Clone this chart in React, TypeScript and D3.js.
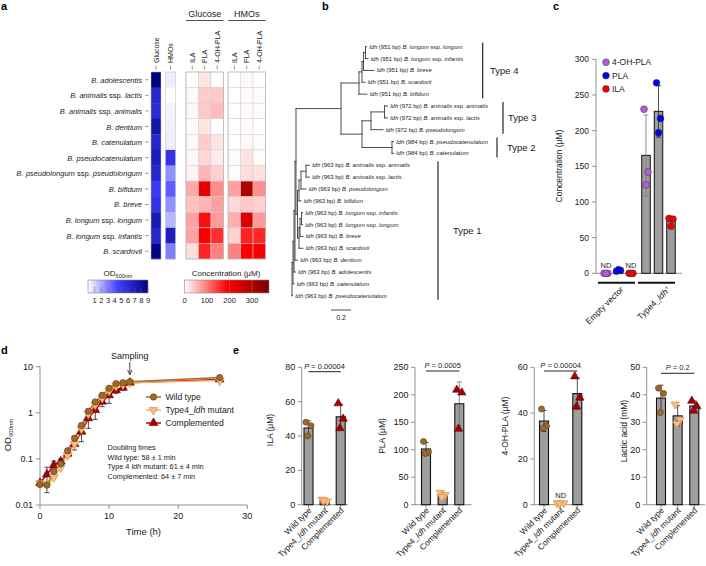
import React from "react";
import * as d3 from "d3";

const FONT = "'Liberation Sans', Arial, Helvetica, sans-serif";

// ---------------- Panel a data ----------------
const species = [
  "B. adolescentis",
  "B. animalis ssp. lactis",
  "B. animalis ssp. animalis",
  "B. dentium",
  "B. catenulatum",
  "B. pseudocatenulatum",
  "B. pseudolongum ssp. pseudolongum",
  "B. bifidum",
  "B. breve",
  "B. longum ssp. longum",
  "B. longum ssp. infantis",
  "B. scardovii",
];
const odColumns = ["Glucose", "HMOs"];
const odGlucose = [9, 6.2, 6, 7.5, 6.3, 7, 6.3, 5, 5.5, 7.2, 6.3, 8.7];
const odHMOs = [0.4, 0, 0.25, 0.35, 0.4, 5.3, 2.6, 3.8, 2.6, 1.7, 6.8, 3];
const mediumGroups = ["Glucose", "HMOs"];
const metaboliteColumns = ["ILA", "PLA", "4-OH-PLA"];
const glcILA = [0, 5, 5, 3, 5, 5, 8, 65, 47, 70, 70, 25];
const glcPLA = [20, 38, 40, 20, 38, 30, 55, 225, 57, 180, 200, 165];
const glc4OH = [0, 40, 50, 0, 20, 15, 35, 85, 71, 75, 155, 95];
const hmoILA = [0, 0, 0, 0, 0, 3, 3, 70, 28, 60, 35, 95];
const hmoPLA = [5, 3, 3, 3, 5, 22, 25, 300, 40, 235, 165, 190];
const hmo4OH = [0, 3, 3, 0, 3, 3, 22, 85, 35, 75, 160, 200];
const odTicks = [1, 2, 3, 4, 5, 6, 7, 8, 9];
const concTicks = [0, 100, 200, 300];

// ---------------- Panel b data ----------------
type TNode = { len: number; leaf?: string; bp?: number; children?: TNode[] };
const L = (bp: number, sp: string, len: number): TNode => ({ len, leaf: sp, bp });
const N = (len: number, ...children: TNode[]): TNode => ({ len, children });
const ldhTree: TNode = N(0,
  N(0.01,
    N(0.01,
      N(0.01,
        N(0.01,
          N(0.45,
            N(0.18,
              N(0.03,
                N(0.015,
                  N(0.02, L(951, "B. longum ssp. longum", 0.01), L(951, "B. longum ssp. infantis", 0.025)),
                  L(951, "B. breve", 0.105)),
                L(951, "B. scardovii", 0.03)),
              L(951, "B. bifidum", 0.08)),
            N(0.21,
              N(0.09,
                N(0.135, L(972, "B. animalis ssp. animalis", 0.03), L(972, "B. animalis ssp. lactis", 0.03)),
                L(972, "B. pseudolongum", 0.12)),
              N(0.30, L(984, "B. pseudocatenulatum", 0.015), L(984, "B. catenulatum", 0.015)))),
          N(0.015,
            N(0.015,
              N(0.02,
                N(0.05, L(963, "B. animalis ssp. animalis", 0.035), L(963, "B. animalis ssp. lactis", 0.035)),
                L(963, "B. pseudolongum", 0.05)),
              L(963, "B. bifidum", 0.02)),
            N(0.015,
              N(0.01,
                N(0.015, L(963, "B. longum ssp. infantis", 0.01), L(963, "B. longum ssp. longum", 0.01)),
                L(963, "B. breve", 0.03)),
              L(963, "B. scardovii", 0.04)))),
        L(963, "B. dentium", 0.025)),
      L(963, "B. adolescentis", 0.015)),
    L(963, "B. catenulatum", 0.01)),
  L(963, "B. pseudocatenulatum", 0.005));
const typeNames = ["Type 4", "Type 3", "Type 2", "Type 1"];
const typeLeafRanges = [[0, 4], [5, 7], [8, 9], [10, 21]];
const scaleBarValue = 0.2;

// ---------------- Panel c data ----------------
const cGroups = ["Empty vector", "Type4_ldh+"];
const cMetabolites = ["4-OH-PLA", "PLA", "ILA"];
const cColors = ["#b45cd9", "#0000f0", "#f20000"];
const cEmptyVector = [[0, 0, 0], [3, 4, 5], [0, 0, 0]];
const cType4 = [[230, 142, 124], [267, 217, 197], [77, 76, 66]];
const cEmptyND = ["4-OH-PLA", "ILA"];
const cTicks = [0, 50, 100, 150, 200, 250, 300];

// ---------------- Panel d data ----------------
const times = [0, 1, 2, 3, 4, 5, 6, 7, 8, 9, 10, 11, 12, 13, 26];
const odWT = [0.028, 0.027, 0.054, 0.078, 0.15, 0.28, 0.53, 1.08, 1.72, 2.4, 3.4, 4.3, 4.5, 4.7, 5.8];
const odMut = [0.03, 0.028, 0.04, 0.065, 0.12, 0.21, 0.45, 0.95, 1.5, 2.1, 3.0, 3.8, 4.1, 4.5, 5.0];
const odComp = [0.03, 0.046, 0.073, 0.088, 0.13, 0.21, 0.39, 0.76, 1.15, 1.75, 2.4, 3.1, 3.5, 4.5, 5.3];
const odCompLo = [0.026, 0.0185, 0.038, 0.065, 0.11, 0.156, 0.236, 0.46, 0.72, 1.36, 1.6, 2.65, 3.1, 4.3, 4.9];
const odCompHi = [0.034, 0.066, 0.09, 0.1, 0.15, 0.26, 0.5, 1.0, 1.6, 2.2, 3.2, 3.8, 4.2, 4.7, 5.8];
const dXTicks = [0, 10, 20, 30];
const dYTicks = [0.01, 0.1, 1, 10];
const dLegend = ["Wild type", "Type4_ldh mutant", "Complemented"];
const doublingLines = ["Doubling times", "Wild type: 58 ± 1 min", "Type 4 ldh mutant: 61 ± 4 min", "Complemented: 64 ± 7 min"];
const samplingTime = 13;

// ---------------- Panel e data ----------------
const eStrains = ["Wild type", "Type4_ldh mutant", "Complemented"];
const eILA = [[48, 46, 40], [3, 2, 2.5], [59, 50, 44.5]];
const ePLA = [[115, 96, 93], [22, 18, 14], [209, 204, 138]];
const e4OH = [[41.8, 34.4, 33.4], [0, 0, 0], [56, 46.7, 42.8]];
const eLactic = [[42.4, 40.5, 33.5], [36.5, 31, 29.5], [37.8, 35.8, 34.2]];
const eTitles = ["ILA (μM)", "PLA (μM)", "4-OH-PLA (μM)", "Lactic acid (mM)"];
const eMax = [80, 250, 60, 50];
const eTickStep = [20, 50, 20, 10];
const ePValues = ["0.00004", "0.0005", "0.00004", "0.2"];
const eND = [[], [], ["Type4_ldh mutant"], []] as string[][];

// ---------------- styling ----------------
const TXT = "#1a1a1a";
const WT_FILL = "#9c6a2c", WT_STROKE = "#5e3b10", WT_LINE = "#a3722f";
const MUT_FILL = "#f6bd85", MUT_STROKE = "#d8893c", MUT_LINE = "#f2b273";
const COMP_FILL = "#a80000", COMP_STROKE = "#600000", COMP_LINE = "#c40000";
const BAR_FILL = "#9e9e9e";

function Species({ name }: { name: string }) {
  const parts = name.split(" ssp. ");
  if (parts.length === 1) return <tspan fontStyle="italic">{name}</tspan>;
  return (
    <>
      <tspan fontStyle="italic">{parts[0]}</tspan>
      <tspan fontStyle="normal">{" ssp. "}</tspan>
      <tspan fontStyle="italic">{parts[1]}</tspan>
    </>
  );
}

function LdhText({ label }: { label: string }) {
  const i = label.indexOf("ldh");
  if (i < 0) return <>{label}</>;
  return (
    <>
      {label.slice(0, i)}
      <tspan fontStyle="italic">ldh</tspan>
      {label.slice(i + 3)}
    </>
  );
}

function Marker({ kind, x, y, s = 1 }: { kind: number; x: number; y: number; s?: number }) {
  if (kind === 0)
    return <circle cx={x} cy={y} r={3.2 * s} fill={WT_FILL} stroke={WT_STROKE} strokeWidth={0.6} />;
  const path = d3.symbol().type(d3.symbolTriangle).size(34 * s * s)() as string;
  const fill = kind === 1 ? MUT_FILL : COMP_FILL;
  const stroke = kind === 1 ? MUT_STROKE : COMP_STROKE;
  return (
    <path d={path} transform={`translate(${x},${y}) rotate(${kind === 1 ? 180 : 0})`} fill={fill} stroke={stroke} strokeWidth={0.6} />
  );
}

// ---------------- Panel A ----------------
function PanelA() {
  const rowY = d3.scaleBand<string>().domain(species).range([72, 259]);
  const odX = d3.scaleBand<string>().domain(odColumns).range([151, 175.5]).paddingInner(0.31);
  const groupX = d3.scaleBand<string>().domain(mediumGroups).range([186, 265.5]).paddingInner(0.11);
  const metX = d3.scaleBand<string>().domain(metaboliteColumns).range([0, groupX.bandwidth()]);
  const odColor = d3.scaleLinear<string>().domain([0, 4.5, 9]).range(["#ffffff", "#4040ff", "#000080"]);
  const concColor = d3.scaleLinear<string>().domain([0, 190, 375]).range(["#ffffff", "#ff0000", "#7a0000"]);
  const odVals = [odGlucose, odHMOs];
  const concVals = [[glcILA, glcPLA, glc4OH], [hmoILA, hmoPLA, hmo4OH]];
  const odBar = d3.scaleLinear().domain([0, 9]).range([88, 148]);
  const concBar = d3.scaleLinear().domain([0, 375]).range([184.5, 269]);
  const rb = rowY.bandwidth();
  return (
    <g>
      <text x={1} y={10} fontSize={11} fontWeight="bold">a</text>
      {species.map((s) => (
        <g key={s}>
          <text x={142} y={(rowY(s) as number) + rb / 2} fontSize={7.5} textAnchor="end" dominantBaseline="central" fill={TXT}>
            <Species name={s} />
          </text>
          <line x1={145} x2={148.5} y1={(rowY(s) as number) + rb / 2} y2={(rowY(s) as number) + rb / 2} stroke="#555" strokeWidth={0.6} />
        </g>
      ))}
      {odColumns.map((c, ci) => {
        const x = odX(c) as number;
        const cx = x + odX.bandwidth() / 2;
        return (
          <g key={c}>
            {species.map((s, ri) => (
              <rect key={s} x={x} y={rowY(s)} width={odX.bandwidth()} height={rb + 0.3} fill={odColor(odVals[ci][ri])} />
            ))}
            <rect x={x} y={72} width={odX.bandwidth()} height={187} fill="none" stroke="#bbb" strokeWidth={0.5} />
            <text transform={`translate(${cx + 2.5},63) rotate(-90)`} fontSize={7} fill={TXT}>{c}</text>
            <line x1={cx} x2={cx} y1={65.5} y2={69.5} stroke="#555" strokeWidth={0.6} />
          </g>
        );
      })}
      {mediumGroups.map((g, gi) => {
        const gx = groupX(g) as number;
        return (
          <g key={g}>
            <text x={gx + groupX.bandwidth() / 2} y={17} fontSize={9} textAnchor="middle" fill={TXT}>{g}</text>
            <line x1={gx} x2={gx + groupX.bandwidth()} y1={20.5} y2={20.5} stroke="#222" strokeWidth={0.8} />
            {metaboliteColumns.map((m, mi) => {
              const x = gx + (metX(m) as number);
              const cx = x + metX.bandwidth() / 2;
              return (
                <g key={m}>
                  {species.map((s, ri) => (
                    <rect key={s} x={x} y={rowY(s)} width={metX.bandwidth()} height={rb} fill={concColor(concVals[gi][mi][ri])} stroke="#cfcfcf" strokeWidth={0.5} />
                  ))}
                  <text transform={`translate(${cx + 2.5},63) rotate(-90)`} fontSize={7} fill={TXT}>{m}</text>
                  <line x1={cx} x2={cx} y1={65.5} y2={69.5} stroke="#555" strokeWidth={0.6} />
                </g>
              );
            })}
            <rect x={gx} y={72} width={groupX.bandwidth()} height={187} fill="none" stroke="#aaa" strokeWidth={0.6} />
          </g>
        );
      })}
      <defs>
        <linearGradient id="odGrad" x1="0" x2="1" y1="0" y2="0">
          {odColor.domain().map((d, i) => (
            <stop key={i} offset={d / 9} stopColor={odColor.range()[i]} />
          ))}
        </linearGradient>
        <linearGradient id="concGrad" x1="0" x2="1" y1="0" y2="0">
          {concColor.domain().map((d, i) => (
            <stop key={i} offset={d / 375} stopColor={concColor.range()[i]} />
          ))}
        </linearGradient>
      </defs>
      <text x={118} y={276} fontSize={8} textAnchor="middle" fill={TXT}>
        OD<tspan fontSize={5.5} dy={2}>600nm</tspan>
      </text>
      <rect x={88} y={280} width={60} height={13} fill="url(#odGrad)" stroke="#888" strokeWidth={0.6} />
      {odTicks.map((t) => (
        <g key={t}>
          <line x1={odBar(t)} x2={odBar(t)} y1={287} y2={293} stroke="#666" strokeWidth={0.5} />
          <text x={odBar(t)} y={303} fontSize={7.5} textAnchor="middle" fill={TXT}>{t}</text>
        </g>
      ))}
      <text x={226} y={276} fontSize={8} textAnchor="middle" fill={TXT}>Concentration (μM)</text>
      <rect x={184.5} y={280} width={84.5} height={13} fill="url(#concGrad)" stroke="#888" strokeWidth={0.6} />
      {concTicks.map((t) => (
        <g key={t}>
          {t > 0 && <line x1={concBar(t)} x2={concBar(t)} y1={280} y2={293} stroke="#bbb" strokeWidth={0.5} opacity={0.6} />}
          <text x={concBar(t)} y={303} fontSize={7.5} textAnchor="middle" fill={TXT}>{t}</text>
        </g>
      ))}
    </g>
  );
}

// ---------------- Panel B ----------------
type Laid = { x: number; y: number; node: TNode; kids: Laid[]; idx?: number };
function PanelB() {
  const rootX = 292;
  const unit = 100;
  const leafY = d3.scaleLinear().domain([0, 21]).range([46.7, 295.7]);
  let counter = 0;
  const lay = (n: TNode, px: number): Laid => {
    const x = px + n.len * unit;
    if (!n.children) {
      const idx = counter++;
      return { x, y: leafY(idx), node: n, kids: [], idx };
    }
    const kids = n.children.map((c) => lay(c, x));
    return { x, y: (kids[0].y + kids[kids.length - 1].y) / 2, node: n, kids };
  };
  const root = lay(ldhTree, rootX);
  const segs: [number, number, number, number][] = [];
  const leaves: Laid[] = [];
  const walk = (l: Laid) => {
    if (!l.kids.length) { leaves.push(l); return; }
    segs.push([l.x, l.kids[0].y, l.x, l.kids[l.kids.length - 1].y]);
    l.kids.forEach((k) => { segs.push([l.x, k.y, k.x, k.y]); walk(k); });
  };
  walk(root);
  const typeBarX = [482.7, 503, 497, 438];
  const typeLabelX = [490, 508, 507, 453];
  return (
    <g>
      <text x={322} y={10} fontSize={11} fontWeight="bold">b</text>
      {segs.map((s, i) => (
        <line key={i} x1={s[0]} y1={s[1]} x2={s[2]} y2={s[3]} stroke="#3a3a3a" strokeWidth={0.9} strokeLinecap="square" />
      ))}
      {leaves.map((l, i) => (
        <text key={i} x={l.x + 2.8} y={l.y} fontSize={5.9} dominantBaseline="central" fill={TXT}>
          <tspan fontStyle="italic">ldh</tspan>
          {` (${l.node.bp} bp) `}
          <Species name={l.node.leaf as string} />
        </text>
      ))}
      {typeNames.map((t, i) => {
        const [a, b] = typeLeafRanges[i];
        const y0 = leafY(a) - 4, y1 = leafY(b) + 4;
        return (
          <g key={t}>
            <line x1={typeBarX[i]} x2={typeBarX[i]} y1={y0} y2={y1} stroke="#111" strokeWidth={1.1} />
            <text x={typeLabelX[i]} y={(y0 + y1) / 2} fontSize={9.5} dominantBaseline="central" fill={TXT}>{t}</text>
          </g>
        );
      })}
      <line x1={331} x2={331 + scaleBarValue * unit} y1={310} y2={310} stroke="#222" strokeWidth={0.8} />
      <text x={331 + (scaleBarValue * unit) / 2} y={320} fontSize={7} textAnchor="middle" fill={TXT}>{scaleBarValue}</text>
    </g>
  );
}

// ---------------- Panel C ----------------
function PanelC() {
  const y = d3.scaleLinear().domain([0, 300]).range([273.3, 59.3]);
  const gx = d3.scalePoint<string>().domain(cGroups).range([618.5, 658.5]);
  const mx = d3.scalePoint<string>().domain(cMetabolites).range([-12.5, 12.5]);
  const jitter = [-2, 2, 0];
  const groupVals = [cEmptyVector, cType4];
  const bw = 8.5;
  return (
    <g>
      <text x={553} y={10} fontSize={11} fontWeight="bold">c</text>
      <line x1={596} x2={596} y1={y(0)} y2={y(300)} stroke="#777" strokeWidth={0.8} />
      <line x1={596} x2={682} y1={y(0)} y2={y(0)} stroke="#777" strokeWidth={0.8} />
      {cTicks.map((t) => (
        <g key={t}>
          <line x1={592} x2={596} y1={y(t)} y2={y(t)} stroke="#777" strokeWidth={0.8} />
          <text x={589} y={y(t)} fontSize={8.5} textAnchor="end" dominantBaseline="central" fill={TXT}>{t}</text>
        </g>
      ))}
      <text transform={`translate(561.5,166) rotate(-90)`} fontSize={8.5} textAnchor="middle" fill={TXT}>Concentration (μM)</text>
      {cGroups.map((g, gi) => (
        <g key={g}>
          {cMetabolites.map((m, mi) => {
            const cx = (gx(g) as number) + (mx(m) as number);
            const vals = groupVals[gi][mi];
            const isND = gi === 0 && cEmptyND.includes(m);
            const mean = d3.mean(vals) as number;
            const sd = d3.deviation(vals) || 0;
            return (
              <g key={m}>
                {!isND && mean > 0 && (
                  <rect x={cx - bw / 2} y={y(mean)} width={bw} height={y(0) - y(mean)} fill={BAR_FILL} stroke="#111" strokeWidth={1} />
                )}
                {!isND && sd > 0 && (
                  <g stroke={gi === 1 && mi === 0 ? "#777" : "#222"} strokeWidth={0.8}>
                    <line x1={cx} x2={cx} y1={y(mean - sd)} y2={y(mean + sd)} />
                    <line x1={cx - 2.5} x2={cx + 2.5} y1={y(mean - sd)} y2={y(mean - sd)} />
                    <line x1={cx - 2.5} x2={cx + 2.5} y1={y(mean + sd)} y2={y(mean + sd)} />
                  </g>
                )}
                {vals.map((v, k) => (
                  <circle key={k} cx={cx + jitter[k]} cy={y(v)} r={3.4} fill={cColors[mi]} stroke="#333" strokeWidth={0.5} />
                ))}
                {isND && (
                  <text x={cx} y={268} fontSize={7.5} textAnchor="middle" fill={TXT}>ND</text>
                )}
              </g>
            );
          })}
          <line x1={(gx(g) as number) - 20.5} x2={(gx(g) as number) + 16.5} y1={282.7} y2={282.7} stroke="#111" strokeWidth={2} />
        </g>
      ))}
      <text transform={`translate(624,290) rotate(-45)`} fontSize={8.5} textAnchor="end" fill={TXT}>Empty vector</text>
      <text transform={`translate(671,290) rotate(-45)`} fontSize={8.5} textAnchor="end" fill={TXT}>
        Type4_<tspan fontStyle="italic">ldh</tspan><tspan fontSize={6} dy={-3}>+</tspan>
      </text>
      {cMetabolites.map((m, i) => (
        <g key={m}>
          <circle cx={606} cy={62.3 + i * 13.3} r={3.4} fill={cColors[i]} stroke="#333" strokeWidth={0.5} />
          <text x={612} y={62.3 + i * 13.3} fontSize={8.5} dominantBaseline="central" fill={TXT}>{m}</text>
        </g>
      ))}
    </g>
  );
}

// ---------------- Panel D ----------------
function PanelD() {
  const x = d3.scaleLinear().domain([0, 30]).range([40, 247.3]);
  const y = d3.scaleLog().domain([0.01, 10]).range([505, 366.7]);
  const line = d3.line<number>().x((_, i) => x(times[i])).y((v) => y(v));
  const series = [odWT, odMut, odComp];
  const lineColors = [WT_LINE, MUT_LINE, COMP_LINE];
  const sx = x(samplingTime);
  return (
    <g>
      <text x={1} y={354} fontSize={11} fontWeight="bold">d</text>
      <line x1={40} x2={40} y1={y(0.01)} y2={y(10)} stroke="#777" strokeWidth={0.8} />
      <line x1={40} x2={247.3} y1={y(0.01)} y2={y(0.01)} stroke="#777" strokeWidth={0.8} />
      {dYTicks.map((t) => (
        <g key={t}>
          <line x1={36} x2={40} y1={y(t)} y2={y(t)} stroke="#777" strokeWidth={0.8} />
          <text x={33} y={y(t)} fontSize={9} textAnchor="end" dominantBaseline="central" fill={TXT}>{t}</text>
        </g>
      ))}
      {dXTicks.map((t) => (
        <g key={t}>
          <line x1={x(t)} x2={x(t)} y1={505} y2={509} stroke="#777" strokeWidth={0.8} />
          <text x={x(t)} y={519} fontSize={9} textAnchor="middle" fill={TXT}>{t}</text>
        </g>
      ))}
      <text x={143.5} y={535} fontSize={9.5} textAnchor="middle" fill={TXT}>Time (h)</text>
      <text transform={`translate(10.5,435) rotate(-90)`} fontSize={9.5} textAnchor="middle" fill={TXT}>
        OD<tspan fontSize={6} dy={2.5}>600nm</tspan>
      </text>
      {times.map((t, i) => (
        <g key={t} stroke="#222" strokeWidth={0.8}>
          <line x1={x(t)} x2={x(t)} y1={y(odCompLo[i])} y2={y(odCompHi[i])} />
          <line x1={x(t) - 2.5} x2={x(t) + 2.5} y1={y(odCompLo[i])} y2={y(odCompLo[i])} />
          <line x1={x(t) - 2.5} x2={x(t) + 2.5} y1={y(odCompHi[i])} y2={y(odCompHi[i])} />
        </g>
      ))}
      {[2, 1, 0].map((k) => (
        <path key={k} d={line(series[k]) as string} fill="none" stroke={lineColors[k]} strokeWidth={1.5} />
      ))}
      {[2, 1, 0].map((k) => (
        <g key={k}>
          {series[k].map((v, i) => (
            <Marker key={i} kind={k} x={x(times[i])} y={y(v)} />
          ))}
        </g>
      ))}
      <text x={sx} y={359} fontSize={9} textAnchor="middle" fill={TXT}>Sampling</text>
      <line x1={sx} x2={sx} y1={362} y2={373} stroke="#111" strokeWidth={0.8} />
      <path d={`M${sx - 2.2},${370} L${sx},${375} L${sx + 2.2},${370}`} fill="none" stroke="#111" strokeWidth={0.8} />
      {dLegend.map((lab, k) => {
        const ly = 397 + k * 13;
        return (
          <g key={lab}>
            <line x1={146} x2={161} y1={ly} y2={ly} stroke={lineColors[k]} strokeWidth={1.5} />
            <Marker kind={k} x={153.5} y={ly} />
            <text x={165.5} y={ly} fontSize={8.6} dominantBaseline="central" fill={TXT}>
              <LdhText label={lab} />
            </text>
          </g>
        );
      })}
      {doublingLines.map((l, i) => (
        <text key={i} x={107.5} y={450 + i * 9.7} fontSize={7.3} fill={TXT}>
          <LdhText label={l} />
        </text>
      ))}
    </g>
  );
}

// ---------------- Panel E ----------------
const eLayout = [
  { axisX: 301.7, c0: 308.5, c1: 340.7, xEnd: 348, titleX: 273.3, titleY: 430, pY: 371.7 },
  { axisX: 415, c0: 426, c1: 459.3, xEnd: 471.7, titleX: 385, titleY: 436, pY: 371 },
  { axisX: 534.3, c0: 544, c1: 577.3, xEnd: 584, titleX: 508, titleY: 426, pY: 371 },
  { axisX: 646.7, c0: 661, c1: 694.3, xEnd: 705, titleX: 627, titleY: 431, pY: 373.3 },
];

function BarPanel({ idx }: { idx: number }) {
  const vals = [eILA, ePLA, e4OH, eLactic][idx];
  const lay = eLayout[idx];
  const y = d3.scaleLinear().domain([0, eMax[idx]]).range([504.7, 367.3]);
  const x = d3.scalePoint<string>().domain(eStrains).range([lay.c0, lay.c1]);
  const ticks = d3.range(0, eMax[idx] + 0.001, eTickStep[idx]);
  const bw = 9;
  const jitter = [-2.5, 2.5, -0.8];
  return (
    <g>
      <line x1={lay.axisX} x2={lay.axisX} y1={y(0)} y2={y(eMax[idx])} stroke="#777" strokeWidth={0.8} />
      <line x1={lay.axisX} x2={lay.xEnd} y1={y(0)} y2={y(0)} stroke="#777" strokeWidth={0.8} />
      {ticks.map((t) => (
        <g key={t}>
          <line x1={lay.axisX - 4} x2={lay.axisX} y1={y(t)} y2={y(t)} stroke="#777" strokeWidth={0.8} />
          <text x={lay.axisX - 6.5} y={y(t)} fontSize={9} textAnchor="end" dominantBaseline="central" fill={TXT}>{t}</text>
        </g>
      ))}
      <text transform={`translate(${lay.titleX},${lay.titleY}) rotate(-90)`} fontSize={8.5} textAnchor="middle" fill={TXT}>{eTitles[idx]}</text>
      {eStrains.map((s, si) => {
        const cx = x(s) as number;
        const v = vals[si];
        const mean = d3.mean(v) as number;
        const sd = d3.deviation(v) || 0;
        const nd = eND[idx].includes(s);
        return (
          <g key={s}>
            <line x1={cx} x2={cx} y1={y(0)} y2={y(0) + 3.5} stroke="#777" strokeWidth={0.8} />
            {!nd && (
              <rect x={cx - bw / 2} y={y(mean)} width={bw} height={y(0) - y(mean)} fill={BAR_FILL} stroke="#111" strokeWidth={1.1} />
            )}
            {!nd && sd > 0 && (
              <g stroke={si === 2 && idx === 1 ? "#666" : "#222"} strokeWidth={0.8}>
                <line x1={cx} x2={cx} y1={y(Math.max(0, mean - sd))} y2={y(mean + sd)} />
                <line x1={cx - 2.5} x2={cx + 2.5} y1={y(mean + sd)} y2={y(mean + sd)} />
                <line x1={cx - 2.5} x2={cx + 2.5} y1={y(Math.max(0, mean - sd))} y2={y(Math.max(0, mean - sd))} />
              </g>
            )}
            {v.map((p, k) => (
              <Marker key={k} kind={si} x={cx + jitter[k] * (si === 1 && nd ? 1.3 : 1)} y={y(p) - (nd ? 1.5 : 0)} s={0.95} />
            ))}
            {nd && <text x={cx} y={497.5} fontSize={7.5} textAnchor="middle" fill={TXT}>ND</text>}
            <text transform={`translate(${cx + 3.5},511) rotate(-45)`} fontSize={8.3} textAnchor="end" fill={TXT}>
              <LdhText label={s} />
            </text>
          </g>
        );
      })}
      <line x1={lay.c0} x2={lay.c1} y1={lay.pY} y2={lay.pY} stroke="#222" strokeWidth={1} />
      <text x={(lay.c0 + lay.c1) / 2} y={lay.pY - 3.2} fontSize={7.5} textAnchor="middle" fill={TXT}>
        <tspan fontStyle="italic">P</tspan>{` = ${ePValues[idx]}`}
      </text>
    </g>
  );
}

function PanelE() {
  return (
    <g>
      <text x={233} y={354} fontSize={11} fontWeight="bold">e</text>
      {[0, 1, 2, 3].map((i) => (
        <BarPanel key={i} idx={i} />
      ))}
    </g>
  );
}

export default function App() {
  return (
    <svg
      width={706}
      height={566}
      viewBox="0 0 706 566"
      style={{ position: "absolute", left: 0, top: 0, background: "#fff" }}
      fontFamily={FONT}
    >
      <rect width={706} height={566} fill="#fff" />
      <PanelA />
      <PanelB />
      <PanelC />
      <PanelD />
      <PanelE />
    </svg>
  );
}
